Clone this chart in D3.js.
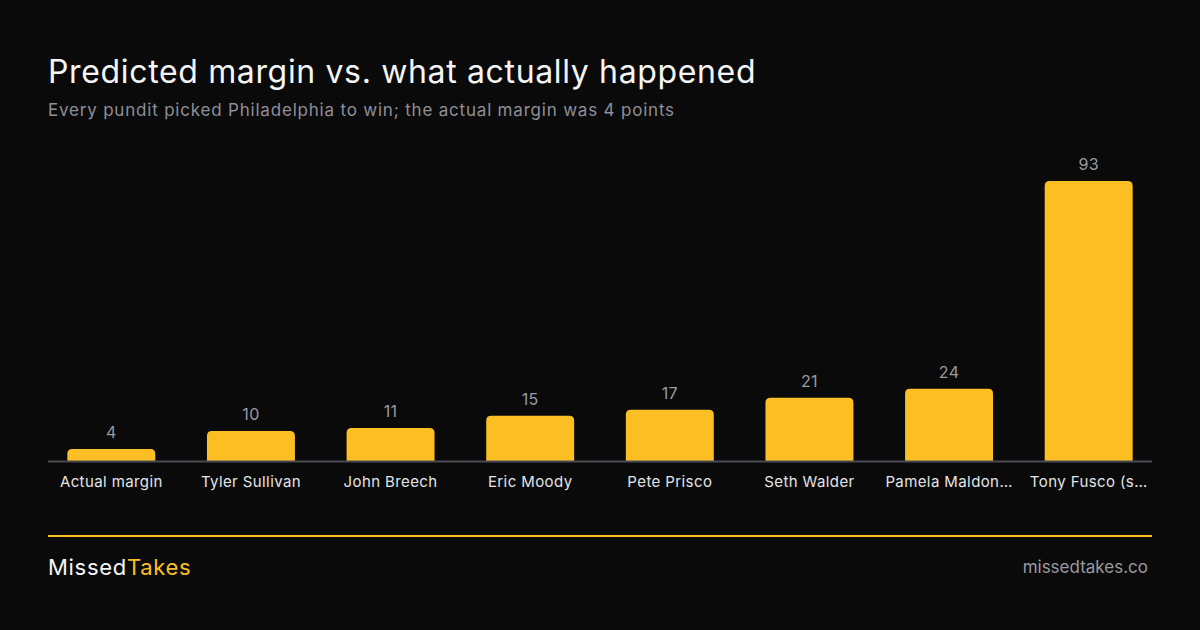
<!DOCTYPE html>
<html>
<head>
<meta charset="utf-8">
<script src="https://cdn.jsdelivr.net/npm/d3@7"></script>
<style>
  html, body { margin: 0; padding: 0; background: #0a0a0a; }
  svg { display: block; font-family: Inter, "Noto Sans", sans-serif; }
</style>
</head>
<body>
<script>
// Datos
const names = ["Actual margin", "Tyler Sullivan", "John Breech", "Eric Moody",
               "Pete Prisco", "Seth Walder", "Pamela Maldon…", "Tony Fusco (s…"];
const margins = [4, 10, 11, 15, 17, 21, 24, 93];

const w = 1200;
const h = 630;
const baseY = 461;
const yellow = "#fbbf24";

const svg = d3.select("body")
    .append("svg")
    .attr("width", w)
    .attr("height", h);

svg.append("rect")
    .attr("width", w)
    .attr("height", h)
    .attr("fill", "#0a0a0a");

// Titulo y subtitulo
svg.append("text")
    .attr("x", 48)
    .attr("y", 83)
    .attr("font-size", "32px")
    .attr("letter-spacing", "0.65px")
    .attr("fill", "#f5f5f5")
    .text("Predicted margin vs. what actually happened");

svg.append("text")
    .attr("x", 48)
    .attr("y", 116)
    .attr("font-size", "17px")
    .attr("letter-spacing", "0.8px")
    .attr("fill", "#8f8f98")
    .text("Every pundit picked Philadelphia to win; the actual margin was 4 points");

// Escalas
const xScale = d3.scaleBand()
    .domain(names)
    .range([41.5, 1158.5])
    .paddingInner(0.37)
    .paddingOuter(0.185);

const yScale = d3.scaleLinear()
    .domain([0, 93])
    .range([baseY, 181]);

const data = names.map((n, i) => ({ name: n, value: margins[i] }));

// Barras con esquinas superiores redondeadas
const r = 5;
svg.selectAll("path.bar")
    .data(data)
    .enter()
    .append("path")
    .attr("class", "bar")
    .attr("fill", yellow)
    .attr("d", (d) => {
        const x0 = xScale(d.name);
        const x1 = x0 + xScale.bandwidth();
        const y0 = yScale(d.value);
        return `M${x0},${baseY} V${y0 + r} Q${x0},${y0} ${x0 + r},${y0} H${x1 - r} Q${x1},${y0} ${x1},${y0 + r} V${baseY} Z`;
    });

// Etiquetas de valor
svg.selectAll("text.value")
    .data(data)
    .enter()
    .append("text")
    .attr("class", "value")
    .attr("x", (d) => xScale(d.name) + xScale.bandwidth() / 2)
    .attr("y", (d) => yScale(d.value) - 11)
    .attr("text-anchor", "middle")
    .attr("font-size", "16px")
    .attr("letter-spacing", "0.3px")
    .attr("fill", "#9a9aa2")
    .text((d) => d.value);

// Eje X
const xAxis = d3.axisBottom(xScale).tickSize(0).tickPadding(15);
const gx = svg.append("g")
    .attr("transform", `translate(0, ${baseY})`)
    .call(xAxis);
gx.select(".domain").remove();
gx.selectAll("text")
    .attr("font-size", "15px")
    .attr("letter-spacing", "0.4px")
    .attr("font-family", "Inter, 'Noto Sans', sans-serif")
    .attr("fill", "#e4e4e7");

svg.append("line")
    .attr("x1", 48)
    .attr("x2", 1152)
    .attr("y1", baseY + 0.5)
    .attr("y2", baseY + 0.5)
    .attr("stroke", "#4a4a52")
    .attr("stroke-width", 2);

// Pie
svg.append("line")
    .attr("x1", 48)
    .attr("x2", 1152)
    .attr("y1", 536)
    .attr("y2", 536)
    .attr("stroke", yellow)
    .attr("stroke-width", 2);

const brand = svg.append("text")
    .attr("x", 48)
    .attr("y", 575)
    .attr("font-size", "22px")
    .attr("letter-spacing", "0.7px");
brand.append("tspan").attr("fill", "#f5f5f5").text("Missed");
brand.append("tspan").attr("fill", yellow).text("Takes");

svg.append("text")
    .attr("x", 1148)
    .attr("y", 573)
    .attr("text-anchor", "end")
    .attr("font-size", "17px")
    .attr("fill", "#9a9aa2")
    .text("missedtakes.co");
</script>
</body>
</html>
